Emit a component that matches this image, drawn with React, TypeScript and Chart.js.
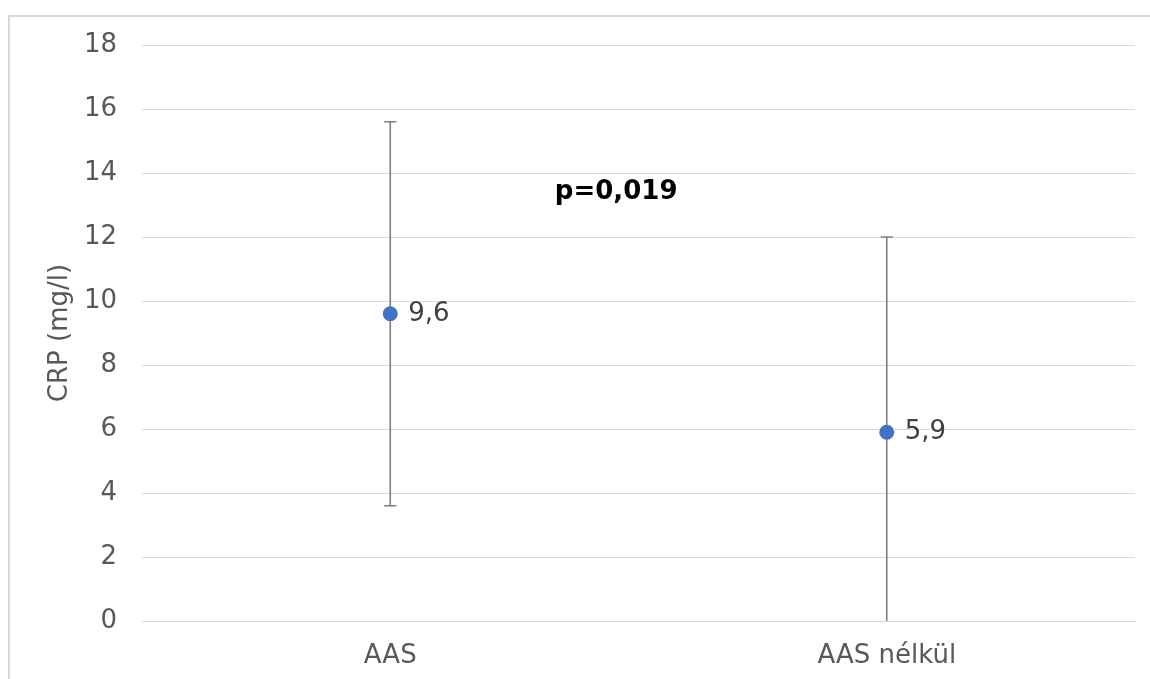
import React, { useEffect, useRef } from "react";
import { Chart, registerables } from "chart.js";

Chart.register(...registerables);

const categories = ["AAS", "AAS nélkül"];
const means = [9.6, 5.9];
const errLow = [3.6, -0.2];
const errHigh = [15.6, 12.0];
const valueLabels = ["9,6", "5,9"];
const yTickValues = [0, 2, 4, 6, 8, 10, 12, 14, 16, 18];
const yAxisTitle = "CRP (mg/l)";
const annotationText = "p=0,019";

const FONT = "'DejaVu Sans', Verdana, sans-serif";
const TEXT_GRAY = "#595959";
const GRID = "#d9d9d9";
const POINT_BLUE = "#4472C4";
const ERR_GRAY = "#7f7f7f";

const errorBarPlugin = {
  id: "errorBars",
  beforeDatasetsDraw(chart: any) {
    const { ctx, chartArea, scales } = chart;
    const xs = scales.x;
    const ys = scales.y;
    ctx.save();
    ctx.beginPath();
    ctx.rect(chartArea.left, chartArea.top, chartArea.right - chartArea.left, chartArea.bottom - chartArea.top);
    ctx.clip();
    ctx.strokeStyle = ERR_GRAY;
    ctx.lineWidth = 1.6;
    const cap = 6;
    categories.forEach((_, i) => {
      const x = xs.getPixelForValue(i);
      const yl = ys.getPixelForValue(errLow[i]);
      const yh = ys.getPixelForValue(errHigh[i]);
      ctx.beginPath();
      ctx.moveTo(x, yl);
      ctx.lineTo(x, yh);
      ctx.moveTo(x - cap, yh);
      ctx.lineTo(x + cap, yh);
      ctx.moveTo(x - cap, yl);
      ctx.lineTo(x + cap, yl);
      ctx.stroke();
    });
    ctx.restore();
  },
};

const labelPlugin = {
  id: "valueLabels",
  afterDatasetsDraw(chart: any) {
    const { ctx, scales } = chart;
    const xs = scales.x;
    const ys = scales.y;
    ctx.save();
    ctx.font = `26px ${FONT}`;
    ctx.fillStyle = "#404040";
    ctx.textAlign = "left";
    ctx.textBaseline = "middle";
    categories.forEach((_, i) => {
      const x = xs.getPixelForValue(i);
      const y = ys.getPixelForValue(means[i]);
      ctx.fillText(valueLabels[i], x + 18, y);
    });
    ctx.font = `bold 26px ${FONT}`;
    ctx.fillStyle = "#000000";
    ctx.textAlign = "center";
    const ax = xs.getPixelForValue(0) + (xs.getPixelForValue(1) - xs.getPixelForValue(0)) * 0.455;
    const ay = ys.getPixelForValue(13.4);
    ctx.fillText(annotationText, ax, ay);
    ctx.restore();
  },
};

export default function App() {
  const canvasRef = useRef<HTMLCanvasElement | null>(null);

  useEffect(() => {
    if (!canvasRef.current) return;
    const chart = new Chart(canvasRef.current, {
      type: "line",
      data: {
        labels: categories,
        datasets: [
          {
            data: means,
            showLine: false,
            pointRadius: 7.5,
            pointHoverRadius: 7.5,
            pointBackgroundColor: POINT_BLUE,
            pointBorderColor: POINT_BLUE,
            pointBorderWidth: 0,
            borderColor: POINT_BLUE,
            backgroundColor: POINT_BLUE,
          },
        ],
      },
      options: {
        responsive: false,
        animation: false,
        events: [],
        layout: { padding: { top: 45, right: 15, left: 0, bottom: 0 } },
        plugins: {
          legend: { display: false },
          tooltip: { enabled: false },
        },
        scales: {
          x: {
            type: "category",
            offset: true,
            grid: { display: false, drawTicks: false },
            border: { display: true, color: GRID, width: 1 },
            ticks: {
              font: { family: FONT, size: 26 },
              color: TEXT_GRAY,
              padding: 20,
              maxRotation: 0,
            },
            afterFit(scale: any) {
              scale.height = 58;
            },
          },
          y: {
            min: 0,
            max: 18,
            afterBuildTicks(scale: any) {
              scale.ticks = yTickValues.map((v) => ({ value: v }));
            },
            grid: { color: GRID, lineWidth: 1, drawTicks: false },
            border: { display: false },
            ticks: {
              font: { family: FONT, size: 26 },
              color: TEXT_GRAY,
              padding: 25,
            },
            title: {
              display: true,
              text: yAxisTitle,
              font: { family: FONT, size: 26 },
              color: TEXT_GRAY,
              padding: { top: 45, bottom: 0 },
            },
            afterFit(scale: any) {
              scale.width = 142;
            },
          },
        },
      },
      plugins: [errorBarPlugin, labelPlugin],
    });
    return () => chart.destroy();
  }, []);

  return (
    <div
      style={{
        position: "fixed",
        top: 0,
        left: 0,
        width: 1150,
        height: 679,
        overflow: "hidden",
        background: "#ffffff",
      }}
    >
      <div
        style={{
          position: "absolute",
          left: 8,
          top: 15,
          width: 1142,
          height: 2,
          background: GRID,
        }}
      />
      <div
        style={{
          position: "absolute",
          left: 8,
          top: 15,
          width: 2,
          height: 664,
          background: GRID,
        }}
      />
      <canvas
        ref={canvasRef}
        width={1150}
        height={679}
        style={{ position: "absolute", left: 0, top: 0, width: 1150, height: 679 }}
      />
    </div>
  );
}
